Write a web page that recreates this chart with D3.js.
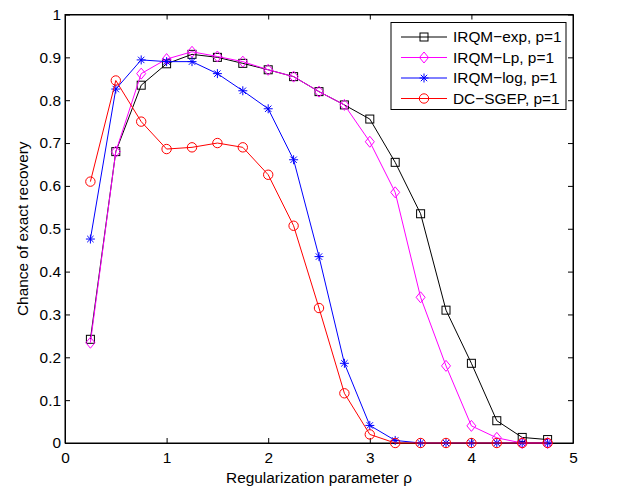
<!DOCTYPE html>
<html><head><meta charset="utf-8">
<script src="https://cdn.jsdelivr.net/npm/d3@7"></script>
<style>
html,body{margin:0;padding:0;background:#fff;}
text{font-family:"Liberation Sans",Arial,sans-serif;}
</style></head>
<body><svg id="c" width="618" height="487"></svg>
<script>
const rho = [0.25,0.5,0.75,1,1.25,1.5,1.75,2,2.25,2.5,2.75,3,3.25,3.5,3.75,4,4.25,4.5,4.75];
const irqmExp = [0.242,0.68,0.835,0.885,0.907,0.90,0.886,0.871,0.855,0.82,0.789,0.756,0.655,0.535,0.31,0.186,0.052,0.013,0.008];
const irqmLp  = [0.234,0.68,0.862,0.896,0.913,0.902,0.89,0.871,0.855,0.82,0.789,0.703,0.585,0.34,0.18,0.04,0.012,0.0,0.0];
const irqmLog = [0.476,0.826,0.894,0.89,0.89,0.862,0.822,0.78,0.661,0.435,0.186,0.041,0.006,0,0,0,0,0,0];
const dcSgep  = [0.61,0.846,0.75,0.686,0.69,0.70,0.69,0.626,0.507,0.315,0.116,0.02,0,0,0,0,0,0,0];
const seriesNames = ["IRQM\u2212exp, p=1","IRQM\u2212Lp, p=1","IRQM\u2212log, p=1","DC\u2212SGEP, p=1"];
const seriesColors = ["#000000","#ff00ff","#0000ff","#ff0000"];
const seriesMarkers = ["square","diamond","star","circle"];
const xTicks = [0,1,2,3,4,5];
const yTicks = [0,0.1,0.2,0.3,0.4,0.5,0.6,0.7,0.8,0.9,1];
const xLabel = "Regularization parameter \u03c1";
const yLabel = "Chance of exact recovery";

const svg = d3.select("#c");
const L=65, R=573, T=14.5, B=443;
const x = d3.scaleLinear().domain([0,5]).range([L,R]);
const y = d3.scaleLinear().domain([0,1]).range([B,T]);
const fs = 15.4;

svg.append("rect").attr("x",L).attr("y",T).attr("width",R-L).attr("height",B-T)
  .attr("fill","none").attr("stroke","#000").attr("stroke-width",1);

const fmt = d => d===0||d===1 ? String(d) : d.toFixed(1);
const ax = svg.append("g").attr("transform",`translate(0,${B})`)
  .call(d3.axisBottom(x).tickValues(xTicks).tickFormat(d=>d).tickSizeInner(-5).tickSizeOuter(0).tickPadding(9));
const axT = svg.append("g").attr("transform",`translate(0,${T})`)
  .call(d3.axisTop(x).tickValues(xTicks).tickFormat("").tickSizeInner(-5).tickSizeOuter(0));
const ay = svg.append("g").attr("transform",`translate(${L},0)`)
  .call(d3.axisLeft(y).tickValues(yTicks).tickFormat(fmt).tickSizeInner(-5).tickSizeOuter(0).tickPadding(4));
const ayR = svg.append("g").attr("transform",`translate(${R},0)`)
  .call(d3.axisRight(y).tickValues(yTicks).tickFormat("").tickSizeInner(-5).tickSizeOuter(0));
[ax,axT,ay,ayR].forEach(g=>{
  g.select(".domain").attr("stroke","#000");
  g.selectAll("line").attr("stroke","#000");
  g.selectAll("text").attr("font-size",fs).attr("fill","#000").style("font-family","Liberation Sans, Arial, sans-serif");
});
ax.selectAll("text").attr("dy","0.71em");

svg.append("text").attr("x",(L+R)/2).attr("y",482.5).attr("text-anchor","middle")
  .attr("font-size",fs).text(xLabel);
svg.append("text").attr("transform",`translate(27.5,${(T+B)/2}) rotate(-90)`).attr("text-anchor","middle")
  .attr("font-size",fs).text(yLabel);

function drawMarker(g, type, cx, cy, color){
  if(type==="square"){
    g.append("rect").attr("x",cx-4).attr("y",cy-4).attr("width",8).attr("height",8)
      .attr("fill","none").attr("stroke",color).attr("stroke-width",1);
  } else if(type==="circle"){
    g.append("circle").attr("cx",cx).attr("cy",cy).attr("r",4.7)
      .attr("fill","none").attr("stroke",color).attr("stroke-width",1);
  } else if(type==="diamond"){
    g.append("path").attr("d",`M${cx},${cy-5.5}L${cx+4.5},${cy}L${cx},${cy+5.5}L${cx-4.5},${cy}Z`)
      .attr("fill","none").attr("stroke",color).attr("stroke-width",1);
  } else if(type==="star"){
    const r=4.5, d=3.2;
    g.append("path").attr("d",`M${cx-r},${cy}H${cx+r}M${cx},${cy-r}V${cy+r}M${cx-d},${cy-d}L${cx+d},${cy+d}M${cx-d},${cy+d}L${cx+d},${cy-d}`)
      .attr("fill","none").attr("stroke",color).attr("stroke-width",1);
  }
}

const allSeries = [irqmExp, irqmLp, irqmLog, dcSgep];
const line = d3.line().x((d,i)=>x(rho[i])).y(d=>y(d));
allSeries.forEach((vals,k)=>{
  const g = svg.append("g");
  g.append("path").datum(vals).attr("d",line).attr("fill","none")
    .attr("stroke",seriesColors[k]).attr("stroke-width",1);
  vals.forEach((v,i)=>drawMarker(g, seriesMarkers[k], x(rho[i]), y(v), seriesColors[k]));
});

const lg = svg.append("g");
lg.append("rect").attr("x",391).attr("y",22.5).attr("width",175).attr("height",87)
  .attr("fill","#fff").attr("stroke","#000").attr("stroke-width",1);
const ly = [37,57.5,78,98.5];
seriesNames.forEach((n,k)=>{
  lg.append("line").attr("x1",401).attr("x2",447).attr("y1",ly[k]).attr("y2",ly[k])
    .attr("stroke",seriesColors[k]).attr("stroke-width",1);
  drawMarker(lg, seriesMarkers[k], 424, ly[k], seriesColors[k]);
  lg.append("text").attr("x",453).attr("y",ly[k]).attr("dy","0.35em")
    .attr("font-size",fs).text(n);
});
</script></body></html>
